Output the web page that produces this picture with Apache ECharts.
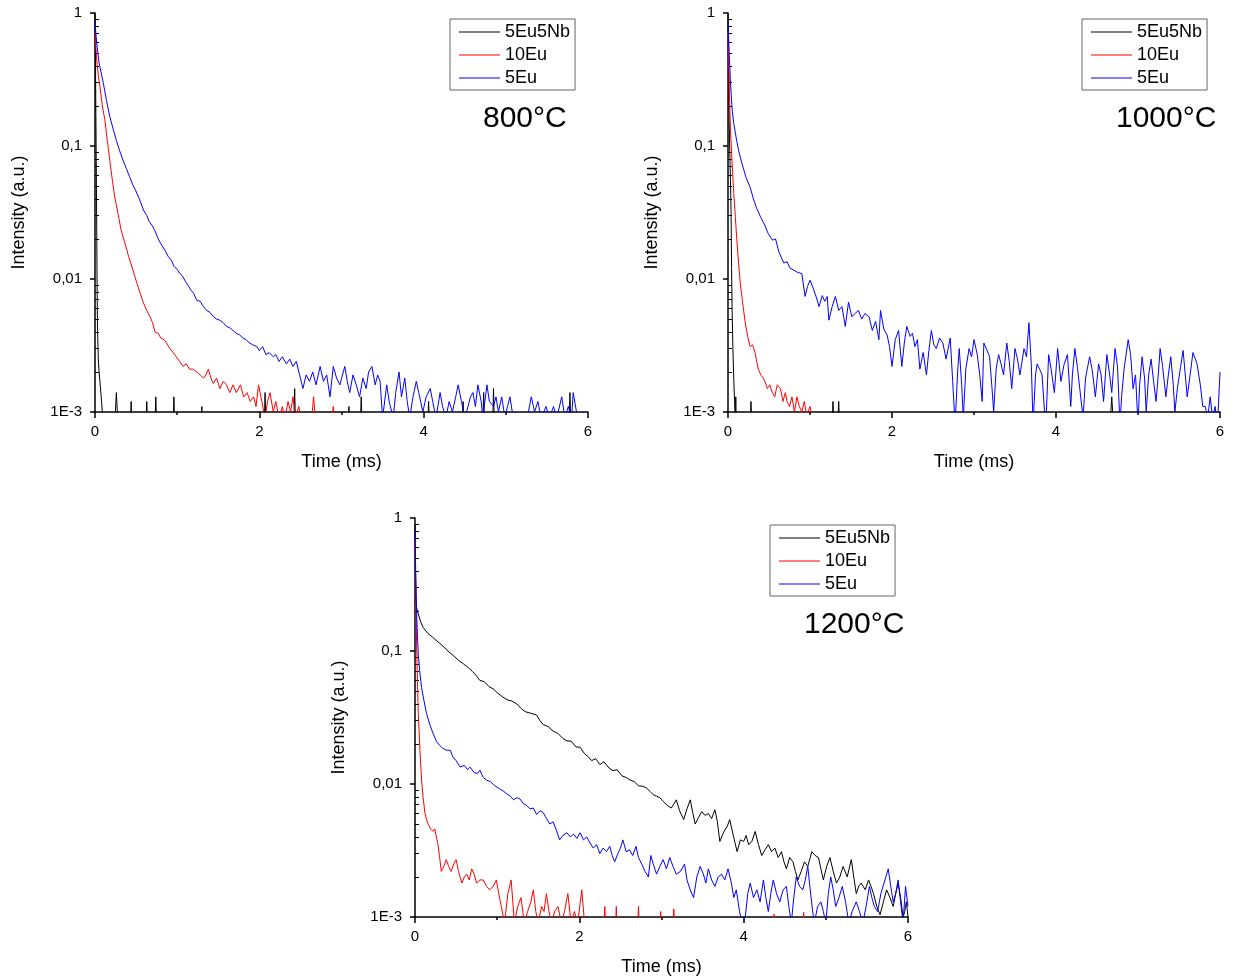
<!DOCTYPE html>
<html>
<head>
<meta charset="utf-8">
<script src="https://cdn.jsdelivr.net/npm/echarts@6/dist/echarts.min.js"></script>
<style>
html, body { margin: 0; padding: 0; background: #fff; }
#chart { width: 1234px; height: 977px; }
</style>
</head>
<body>
<div id="chart"></div>
<script>
// names / colours shared by the three panels
var seriesNames = ['5Eu5Nb', '10Eu', '5Eu'];
var seriesColors = ['#000000', '#ff0000', '#0000ff'];
var tempLabels = ['800°C', '1000°C', '1200°C'];
var yTickLabels = ['1E-3', '0,01', '0,1', '1'];
var yMinorTicks = [0.002, 0.003, 0.004, 0.005, 0.006, 0.007, 0.008, 0.009,
  0.02, 0.03, 0.04, 0.05, 0.06, 0.07, 0.08, 0.09,
  0.2, 0.3, 0.4, 0.5, 0.6, 0.7, 0.8, 0.9];

// decay curves: [time (ms), intensity]
// values under 1E-3 sit on the bottom axis (clipped)
var black800 = [[0,1],[0.005,0.5],[0.01,0.2],[0.015,0.08],[0.02,0.03],[0.025,0.01],[0.03,0.0045],[0.04,0.0025],[0.05,0.002],[0.06,0.0017],[0.08,0.0012],[0.1,0.0008],
  [0.24,0.0008],[0.26,0.0014],[0.28,0.0008],[0.43,0.0008],[0.44,0.0012],[0.45,0.0008],[0.62,0.0008],[0.63,0.0012],[0.64,0.0008],[0.73,0.0008],[0.74,0.0013],[0.75,0.0008],
  [0.95,0.0008],[0.96,0.0013],[0.97,0.0008],[1.29,0.0008],[1.3,0.0011],[1.31,0.0008],[2.06,0.0008],[2.07,0.0014],[2.08,0.0008],[2.42,0.0008],[2.43,0.0015],[2.44,0.0008],
  [3.08,0.0008],[3.09,0.0011],[3.1,0.0008],[3.23,0.0008],[3.24,0.0013],[3.25,0.0008],[4.05,0.0008],[4.06,0.0012],[4.07,0.0008],[4.47,0.0008],[4.48,0.0012],[4.49,0.0008],
  [4.72,0.0008],[4.73,0.0014],[4.74,0.0008],[4.84,0.0008],[4.85,0.0015],[4.86,0.0008],[5.77,0.0008],[5.78,0.0014],[5.79,0.0008],[6,0.0008]];
var red800 = [[0,0.7],[0.02,0.45],[0.04,0.34],[0.06,0.28],[0.09,0.2],[0.12,0.157],[0.15,0.11],[0.18,0.078],[0.21,0.056],[0.24,0.0415],[0.28,0.031],[0.32,0.023],[0.36,0.019],
  [0.41,0.0147],[0.46,0.0118],[0.51,0.0093],[0.55,0.0078],[0.59,0.0066],[0.63,0.0058],[0.67,0.0052],[0.7,0.0047],[0.73,0.004],[0.77,0.0039],[0.8,0.0036],[0.84,0.0035],
  [0.87,0.0033],[0.91,0.003],[0.95,0.0028],[0.99,0.0026],[1.03,0.0024],[1.07,0.0022],[1.11,0.0023],[1.15,0.0021],[1.19,0.0021],[1.24,0.002],[1.28,0.0019],[1.32,0.0018],
  [1.35,0.0019],[1.38,0.0021],[1.41,0.0018],[1.44,0.00164],[1.48,0.0018],[1.52,0.0015],[1.56,0.0017],[1.6,0.0016],[1.64,0.0014],[1.68,0.0016],[1.72,0.0014],[1.77,0.0016],
  [1.81,0.0013],[1.85,0.0014],[1.89,0.0012],[1.93,0.0013],[1.96,0.0011],[1.99,0.0016],[2.03,0.0012],[2.07,0.0009],[2.1,0.0012],[2.13,0.0014],[2.17,0.001],[2.2,0.0012],
  [2.24,0.0009],[2.28,0.0011],[2.31,0.0009],[2.35,0.0012],[2.38,0.001],[2.41,0.0013],[2.44,0.0009],[2.48,0.0011],[2.52,0.0008],[2.63,0.0008],[2.66,0.0013],[2.69,0.0008],
  [2.88,0.0008],[2.9,0.0011],[2.92,0.0008],[6,0.0008]];
var blue800 = [[0,0.85],[0.02,0.6],[0.05,0.42],[0.1,0.3],[0.14,0.22],[0.18,0.166],[0.22,0.135],[0.26,0.11],[0.3,0.092],[0.34,0.0785],[0.38,0.068],[0.42,0.059],[0.46,0.051],
  [0.49,0.047],[0.54,0.04],[0.59,0.033],[0.63,0.03],[0.66,0.027],[0.7,0.025],[0.73,0.023],[0.77,0.02],[0.81,0.018],[0.85,0.0165],[0.89,0.0148],[0.93,0.0138],[0.96,0.0125],
  [1.0,0.0118],[1.03,0.0111],[1.07,0.0104],[1.1,0.0096],[1.14,0.0088],[1.17,0.0082],[1.2,0.0078],[1.24,0.0069],[1.28,0.0068],[1.32,0.0062],[1.36,0.0058],[1.4,0.0056],
  [1.44,0.0052],[1.48,0.005],[1.52,0.0049],[1.56,0.0047],[1.6,0.0044],[1.64,0.0043],[1.68,0.0041],[1.72,0.0039],[1.76,0.0038],[1.8,0.0036],[1.84,0.0035],[1.88,0.0033],
  [1.92,0.0032],[1.97,0.0031],[2.0,0.0029],[2.04,0.0031],[2.08,0.0027],[2.12,0.0028],[2.17,0.0026],[2.2,0.0027],[2.24,0.0024],[2.28,0.0026],[2.33,0.0023],[2.37,0.0025],
  [2.41,0.0022],[2.45,0.0024],[2.49,0.0019],[2.53,0.0015],[2.57,0.0019],[2.61,0.0017],[2.65,0.002],[2.69,0.0016],[2.74,0.0022],[2.78,0.0017],[2.82,0.0019],[2.86,0.0013],
  [2.9,0.0022],[2.94,0.0018],[2.98,0.0016],[3.04,0.0022],[3.07,0.0017],[3.1,0.0014],[3.14,0.0019],[3.18,0.0016],[3.22,0.0013],[3.26,0.0018],[3.3,0.0015],[3.33,0.002],
  [3.37,0.0022],[3.41,0.0016],[3.44,0.0019],[3.47,0.0017],[3.5,0.0009],[3.55,0.0016],[3.58,0.0012],[3.63,0.0009],[3.66,0.0014],[3.7,0.002],[3.73,0.0013],[3.77,0.0018],
  [3.8,0.0012],[3.83,0.0009],[3.87,0.0013],[3.91,0.0017],[3.94,0.0014],[3.99,0.001],[4.03,0.0013],[4.08,0.0015],[4.11,0.0012],[4.15,0.0009],[4.2,0.0014],[4.23,0.0011],
  [4.27,0.0009],[4.31,0.0012],[4.35,0.001],[4.39,0.0013],[4.42,0.0016],[4.46,0.0012],[4.5,0.0009],[4.54,0.0011],[4.57,0.0013],[4.6,0.0014],[4.63,0.0011],[4.66,0.0016],
  [4.7,0.0012],[4.72,0.0009],[4.77,0.0016],[4.8,0.0012],[4.85,0.0011],[4.88,0.0013],[4.91,0.001],[4.95,0.0013],[4.99,0.0009],[5.02,0.0011],[5.05,0.0013],[5.09,0.0009],
  [5.13,0.001],[5.18,0.0009],[5.22,0.001],[5.26,0.0009],[5.31,0.0013],[5.35,0.001],[5.39,0.0012],[5.43,0.0009],[5.49,0.0011],[5.53,0.0009],[5.58,0.0011],[5.62,0.0009],
  [5.68,0.0013],[5.72,0.0009],[5.76,0.0011],[5.8,0.0009],[5.82,0.0014],[5.86,0.001],[5.9,0.0009],[5.94,0.001],[5.98,0.0009],[6.0,0.00095]];

var black1000 = [[0,1],[0.006,0.45],[0.012,0.19],[0.02,0.1],[0.03,0.055],[0.037,0.033],[0.044,0.012],[0.05,0.0058],[0.06,0.003],[0.07,0.0018],[0.08,0.0012],[0.09,0.0008],
  [0.095,0.0013],[0.1,0.0008],[0.27,0.0008],[0.28,0.0012],[0.29,0.0008],[1.27,0.0008],[1.28,0.0012],[1.29,0.0008],[1.34,0.0008],[1.35,0.0012],[1.36,0.0008],
  [4.66,0.0008],[4.68,0.0013],[4.7,0.0008],[6,0.0008]];
var red1000 = [[0,0.7],[0.01,0.4],[0.02,0.22],[0.03,0.13],[0.05,0.075],[0.07,0.044],[0.09,0.029],[0.11,0.0187],[0.13,0.013],[0.15,0.0093],[0.18,0.0065],[0.21,0.0047],
  [0.24,0.0037],[0.27,0.0031],[0.3,0.0032],[0.33,0.0028],[0.35,0.0024],[0.37,0.0021],[0.4,0.0019],[0.43,0.0018],[0.45,0.0017],[0.48,0.0015],[0.51,0.0016],[0.54,0.0014],
  [0.57,0.0013],[0.6,0.0016],[0.64,0.0015],[0.67,0.0012],[0.7,0.0014],[0.72,0.0012],[0.75,0.0011],[0.78,0.0013],[0.81,0.001],[0.84,0.0013],[0.87,0.0011],[0.9,0.001],
  [0.93,0.0012],[0.96,0.00095],[1.0,0.0011],[1.03,0.0009],[1.05,0.0008],[6,0.0008]];
var blue1000 = [[0,0.85],[0.01,0.6],[0.03,0.3],[0.05,0.19],[0.07,0.148],[0.1,0.115],[0.13,0.092],[0.17,0.074],[0.22,0.058],[0.27,0.049],[0.31,0.04],[0.35,0.034],[0.4,0.029],
  [0.44,0.026],[0.49,0.022],[0.54,0.0196],[0.58,0.02],[0.62,0.016],[0.68,0.0132],[0.72,0.0135],[0.76,0.012],[0.8,0.0117],[0.85,0.0112],[0.9,0.011],[0.94,0.0074],
  [0.97,0.0088],[1.0,0.0098],[1.04,0.0085],[1.08,0.0072],[1.11,0.0062],[1.15,0.0075],[1.18,0.0068],[1.21,0.0074],[1.23,0.0049],[1.27,0.0062],[1.31,0.0074],[1.35,0.0058],
  [1.39,0.0062],[1.43,0.0044],[1.47,0.0067],[1.51,0.0052],[1.55,0.0055],[1.59,0.0058],[1.63,0.005],[1.67,0.0055],[1.72,0.0052],[1.76,0.0041],[1.8,0.0048],[1.84,0.0035],
  [1.86,0.0058],[1.9,0.0042],[1.94,0.0038],[1.97,0.0031],[2.0,0.0022],[2.04,0.0035],[2.08,0.0041],[2.12,0.0022],[2.15,0.0033],[2.18,0.0044],[2.22,0.0037],[2.25,0.0039],
  [2.28,0.0031],[2.31,0.0035],[2.34,0.0021],[2.38,0.0028],[2.42,0.0019],[2.45,0.0029],[2.48,0.0041],[2.51,0.0032],[2.54,0.003],[2.58,0.0036],[2.62,0.0033],[2.66,0.0025],
  [2.71,0.0036],[2.74,0.0017],[2.77,0.0008],[2.8,0.002],[2.82,0.003],[2.85,0.0016],[2.87,0.0009],[2.9,0.0021],[2.94,0.003],[2.97,0.0026],[3.0,0.0035],[3.04,0.0027],
  [3.07,0.0019],[3.1,0.0012],[3.12,0.0033],[3.16,0.0029],[3.19,0.0026],[3.22,0.0015],[3.24,0.001],[3.27,0.0021],[3.3,0.0027],[3.33,0.0023],[3.36,0.0019],[3.4,0.0033],
  [3.43,0.0024],[3.46,0.0015],[3.5,0.003],[3.53,0.0025],[3.56,0.0019],[3.61,0.003],[3.64,0.0026],[3.67,0.0047],[3.7,0.0022],[3.72,0.0008],[3.75,0.0019],[3.77,0.0023],
  [3.8,0.0021],[3.83,0.0019],[3.86,0.001],[3.88,0.0009],[3.91,0.0027],[3.94,0.0021],[3.98,0.0014],[4.02,0.003],[4.06,0.0017],[4.1,0.0023],[4.14,0.0027],[4.18,0.0011],
  [4.2,0.0019],[4.23,0.003],[4.26,0.0022],[4.29,0.0015],[4.33,0.0009],[4.36,0.0018],[4.41,0.0026],[4.44,0.0021],[4.48,0.0013],[4.52,0.0023],[4.55,0.0019],[4.58,0.0012],
  [4.62,0.0027],[4.65,0.002],[4.68,0.0014],[4.72,0.003],[4.75,0.0022],[4.78,0.0008],[4.8,0.0013],[4.83,0.0021],[4.88,0.0035],[4.91,0.0027],[4.94,0.0015],[4.97,0.0019],
  [5.0,0.0008],[5.02,0.0016],[5.05,0.0026],[5.08,0.0018],[5.1,0.001],[5.13,0.0019],[5.16,0.0025],[5.19,0.0017],[5.22,0.0012],[5.25,0.002],[5.27,0.003],[5.3,0.0022],
  [5.34,0.0013],[5.37,0.0019],[5.4,0.0026],[5.43,0.0016],[5.45,0.001],[5.48,0.0015],[5.52,0.0022],[5.55,0.0029],[5.58,0.0018],[5.6,0.0013],[5.64,0.002],[5.67,0.0028],
  [5.72,0.0023],[5.76,0.0016],[5.79,0.0011],[5.82,0.0011],[5.85,0.0009],[5.88,0.0013],[5.91,0.0009],[5.94,0.0011],[5.97,0.0008],[6.0,0.002]];

var black1200 = [[0,0.9],[0.005,0.45],[0.01,0.25],[0.02,0.21],[0.04,0.19],[0.07,0.165],[0.1,0.15],[0.16,0.135],[0.22,0.126],[0.28,0.117],[0.34,0.109],[0.4,0.1],[0.47,0.092],
  [0.53,0.085],[0.59,0.08],[0.65,0.075],[0.7,0.07],[0.74,0.066],[0.79,0.06],[0.84,0.059],[0.9,0.054],[0.95,0.052],[1.01,0.048],[1.07,0.045],[1.12,0.043],[1.18,0.042],
  [1.24,0.04],[1.29,0.037],[1.34,0.035],[1.41,0.034],[1.48,0.033],[1.52,0.03],[1.56,0.028],[1.62,0.027],[1.68,0.025],[1.74,0.024],[1.8,0.022],[1.85,0.0211],[1.9,0.021],
  [1.96,0.019],[2.01,0.0189],[2.06,0.017],[2.11,0.016],[2.15,0.015],[2.2,0.0155],[2.25,0.014],[2.3,0.0147],[2.36,0.0132],[2.41,0.0126],[2.46,0.0128],[2.52,0.0115],
  [2.57,0.0112],[2.62,0.0107],[2.67,0.0104],[2.72,0.0097],[2.78,0.0096],[2.82,0.0093],[2.86,0.0088],[2.9,0.0083],[2.94,0.0081],[2.98,0.0079],[3.02,0.0074],[3.07,0.0069],
  [3.12,0.0066],[3.18,0.0076],[3.22,0.0063],[3.27,0.0054],[3.31,0.0065],[3.35,0.0076],[3.38,0.0061],[3.41,0.005],[3.45,0.0056],[3.49,0.0062],[3.53,0.0058],[3.57,0.006],
  [3.61,0.0055],[3.65,0.0064],[3.68,0.0052],[3.71,0.0037],[3.74,0.0041],[3.77,0.0045],[3.8,0.0048],[3.83,0.0054],[3.87,0.0042],[3.92,0.0031],[3.96,0.0038],[4.0,0.0037],
  [4.03,0.0041],[4.06,0.0035],[4.1,0.0037],[4.14,0.0044],[4.18,0.0035],[4.22,0.0029],[4.26,0.0032],[4.3,0.0035],[4.34,0.0031],[4.38,0.0033],[4.42,0.0028],[4.46,0.0031],
  [4.49,0.0026],[4.52,0.0023],[4.56,0.0028],[4.6,0.0026],[4.63,0.0022],[4.66,0.0019],[4.7,0.0022],[4.74,0.0026],[4.78,0.0024],[4.83,0.0031],[4.87,0.0029],[4.91,0.0028],
  [4.94,0.0023],[4.97,0.0019],[5.01,0.0024],[5.05,0.0028],[5.09,0.0022],[5.13,0.0018],[5.17,0.002],[5.21,0.0024],[5.26,0.002],[5.31,0.0027],[5.34,0.002],[5.37,0.0015],
  [5.4,0.0017],[5.43,0.0018],[5.48,0.0016],[5.52,0.0019],[5.55,0.0017],[5.58,0.0015],[5.62,0.0012],[5.66,0.00104],[5.7,0.0013],[5.74,0.0016],[5.78,0.0014],[5.82,0.0012],
  [5.85,0.0015],[5.88,0.0018],[5.91,0.0014],[5.94,0.001],[5.96,0.0011],[5.98,0.0013],[6.0,0.001]];
var red1200 = [[0,0.7],[0.01,0.3],[0.02,0.107],[0.03,0.06],[0.04,0.034],[0.06,0.018],[0.08,0.0107],[0.1,0.0078],[0.12,0.0061],[0.14,0.0054],[0.16,0.005],[0.19,0.0046],
  [0.22,0.0044],[0.24,0.0046],[0.26,0.004],[0.28,0.0035],[0.3,0.0028],[0.32,0.0022],[0.35,0.0024],[0.38,0.0027],[0.41,0.0024],[0.44,0.0022],[0.47,0.0025],[0.5,0.0027],
  [0.53,0.0022],[0.57,0.0018],[0.6,0.002],[0.63,0.0021],[0.66,0.0019],[0.69,0.0023],[0.72,0.0021],[0.75,0.0018],[0.79,0.0019],[0.83,0.0019],[0.87,0.0017],[0.91,0.0016],
  [0.95,0.0017],[0.99,0.0019],[1.02,0.0015],[1.05,0.0012],[1.09,0.0009],[1.13,0.0015],[1.17,0.0019],[1.21,0.0009],[1.25,0.0012],[1.29,0.0014],[1.33,0.0009],[1.37,0.0011],
  [1.41,0.0013],[1.44,0.0016],[1.47,0.0011],[1.5,0.0009],[1.54,0.0012],[1.57,0.0011],[1.6,0.0015],[1.63,0.0011],[1.66,0.0009],[1.7,0.0011],[1.74,0.0012],[1.78,0.0009],
  [1.82,0.0011],[1.86,0.0015],[1.9,0.0009],[1.94,0.0011],[1.98,0.0009],[2.03,0.0016],[2.07,0.0008],[2.3,0.0008],[2.31,0.0012],[2.32,0.0008],[2.44,0.0008],[2.45,0.0012],
  [2.46,0.0008],[2.71,0.0008],[2.72,0.0012],[2.73,0.0008],[2.98,0.0008],[2.99,0.0011],[3.0,0.0008],[3.14,0.0008],[3.15,0.00115],[3.16,0.0008],[4.36,0.0008],[4.37,0.00105],
  [4.38,0.0008],[4.72,0.0008],[4.73,0.00108],[4.74,0.0008],[6,0.0008]];
var blue1200 = [[0,0.8],[0.01,0.35],[0.02,0.19],[0.03,0.13],[0.04,0.094],[0.06,0.068],[0.08,0.053],[0.11,0.042],[0.14,0.034],[0.18,0.028],[0.22,0.024],[0.26,0.021],[0.3,0.0195],
  [0.34,0.0185],[0.38,0.018],[0.43,0.0179],[0.46,0.016],[0.5,0.015],[0.55,0.0134],[0.6,0.0138],[0.64,0.0128],[0.67,0.0134],[0.72,0.0122],[0.76,0.012],[0.79,0.0127],
  [0.83,0.0112],[0.87,0.0107],[0.92,0.0104],[0.97,0.0097],[1.03,0.0092],[1.08,0.0088],[1.12,0.0084],[1.16,0.0081],[1.2,0.0076],[1.24,0.0079],[1.28,0.0077],[1.32,0.0071],
  [1.36,0.0069],[1.4,0.0065],[1.44,0.0066],[1.48,0.0059],[1.52,0.0063],[1.56,0.0061],[1.6,0.0055],[1.64,0.005],[1.68,0.0052],[1.72,0.0045],[1.76,0.0038],[1.8,0.0041],
  [1.85,0.0043],[1.89,0.004],[1.93,0.0042],[1.97,0.0039],[2.01,0.0043],[2.05,0.0038],[2.09,0.004],[2.13,0.0036],[2.17,0.0033],[2.21,0.0035],[2.25,0.003],[2.29,0.0033],
  [2.33,0.0031],[2.37,0.0034],[2.4,0.0029],[2.43,0.0026],[2.47,0.003],[2.5,0.0033],[2.53,0.0038],[2.57,0.0031],[2.61,0.0032],[2.65,0.0029],[2.69,0.0034],[2.72,0.0028],
  [2.76,0.0025],[2.8,0.0022],[2.84,0.002],[2.87,0.0029],[2.9,0.0025],[2.94,0.0021],[2.98,0.0024],[3.02,0.0027],[3.06,0.0023],[3.1,0.0028],[3.14,0.0024],[3.18,0.0021],
  [3.23,0.0022],[3.28,0.0025],[3.31,0.0019],[3.35,0.0016],[3.39,0.0014],[3.43,0.002],[3.47,0.0024],[3.51,0.0021],[3.54,0.0018],[3.57,0.0023],[3.61,0.0019],[3.65,0.0017],
  [3.69,0.002],[3.73,0.0021],[3.77,0.0019],[3.81,0.0023],[3.85,0.0018],[3.88,0.0014],[3.91,0.0016],[3.95,0.0011],[3.98,0.0009],[4.02,0.001],[4.05,0.0015],[4.08,0.0018],
  [4.12,0.0014],[4.16,0.0016],[4.2,0.0013],[4.24,0.0019],[4.27,0.0014],[4.3,0.0011],[4.33,0.0015],[4.36,0.0019],[4.4,0.0015],[4.44,0.0013],[4.48,0.0016],[4.52,0.0017],
  [4.55,0.0012],[4.58,0.0009],[4.61,0.0014],[4.64,0.002],[4.68,0.0017],[4.72,0.0016],[4.75,0.0019],[4.78,0.0024],[4.81,0.0016],[4.84,0.0011],[4.86,0.0009],[4.9,0.0012],
  [4.94,0.0013],[4.97,0.0011],[5.0,0.0009],[5.03,0.0015],[5.06,0.002],[5.09,0.0016],[5.12,0.0012],[5.16,0.0014],[5.2,0.0017],[5.24,0.0013],[5.28,0.0009],[5.32,0.0011],
  [5.37,0.0013],[5.41,0.0011],[5.45,0.0009],[5.49,0.0012],[5.53,0.0017],[5.56,0.0014],[5.59,0.0012],[5.63,0.0011],[5.67,0.0015],[5.72,0.0019],[5.76,0.0023],[5.79,0.0017],
  [5.82,0.0013],[5.85,0.0015],[5.88,0.0019],[5.91,0.0013],[5.94,0.0009],[5.97,0.0017],[6.0,0.0012]];

var FONT = '"Liberation Sans", Arial, sans-serif';

// layout of the three panels (plot box, legend box, temperature label)
var panels = [
  {grid: {left: 95, top: 13, width: 493, height: 399}, legend: [450, 19], label: [483, 104], data: [black800, red800, blue800]},
  {grid: {left: 728, top: 13, width: 492, height: 399}, legend: [1082, 19], label: [1116, 104], data: [black1000, red1000, blue1000]},
  {grid: {left: 415, top: 518, width: 493, height: 401}, legend: [770, 525], label: [804, 610], data: [black1200, red1200, blue1200]}
];

var grids = [], xAxes = [], yAxes = [], series = [], legends = [], titles = [];

panels.forEach(function (p, i) {
  grids.push(p.grid);

  xAxes.push({
    gridIndex: i, type: 'value', min: 0, max: 6, interval: 2,
    name: 'Time (ms)', nameLocation: 'middle', nameGap: 41,
    nameTextStyle: {fontSize: 18, color: '#000', fontFamily: FONT},
    axisLine: {onZero: false, lineStyle: {color: '#000', width: 1.5}},
    axisTick: {length: 6, lineStyle: {color: '#000', width: 1.5}},
    minorTick: {show: true, splitNumber: 2, length: 3, lineStyle: {color: '#000', width: 1.5}},
    axisLabel: {fontSize: 15, color: '#000', margin: 12, fontFamily: FONT},
    splitLine: {show: false}
  });

  // main log axis: labels + outward decade ticks
  yAxes.push({
    gridIndex: i, type: 'log', logBase: 10, min: 0.001, max: 1, splitNumber: 3, position: 'left',
    name: 'Intensity (a.u.)', nameLocation: 'middle', nameGap: 67,
    nameTextStyle: {fontSize: 18, color: '#000', fontFamily: FONT},
    axisLine: {onZero: false, lineStyle: {color: '#000', width: 1.5}},
    axisTick: {length: 5, lineStyle: {color: '#000', width: 1.5}},
    axisLabel: {
      fontSize: 15, color: '#000', margin: 13, fontFamily: FONT,
      formatter: function (v) { return yTickLabels[Math.round(Math.log10(v)) + 3]; }
    },
    splitLine: {show: false}
  });
  // same scale again, only for the small inside ticks at 2..9
  yAxes.push({
    gridIndex: i, type: 'log', logBase: 10, min: 0.001, max: 1, position: 'left',
    axisLine: {show: false},
    axisLabel: {show: false},
    axisTick: {show: true, inside: true, length: 4, customValues: yMinorTicks, lineStyle: {color: '#000', width: 1}},
    splitLine: {show: false}
  });

  p.data.forEach(function (d, k) {
    series.push({
      type: 'line', name: seriesNames[k],
      xAxisIndex: i, yAxisIndex: 2 * i,
      data: d, symbol: 'none', showSymbol: false, clip: true,
      lineStyle: {width: 1, color: seriesColors[k]},
      itemStyle: {color: seriesColors[k]},
      emphasis: {disabled: true}
    });
  });

  legends.push({
    left: p.legend[0], top: p.legend[1], orient: 'vertical',
    data: seriesNames, icon: 'rect', itemWidth: 41, itemHeight: 1, itemGap: 5,
    textStyle: {fontSize: 18, color: '#000', fontFamily: FONT},
    borderColor: '#666', borderWidth: 1, padding: [4, 5, 3, 9],
    selectedMode: false
  });

  titles.push({
    text: tempLabels[i], left: p.label[0], top: p.label[1], padding: 0,
    textStyle: {fontSize: 30, fontWeight: 'normal', color: '#000', fontFamily: FONT}
  });
});

var chart = echarts.init(document.getElementById('chart'));
chart.setOption({
  animation: false,
  backgroundColor: '#fff',
  title: titles,
  legend: legends,
  grid: grids,
  xAxis: xAxes,
  yAxis: yAxes,
  series: series
});
</script>
</body>
</html>
